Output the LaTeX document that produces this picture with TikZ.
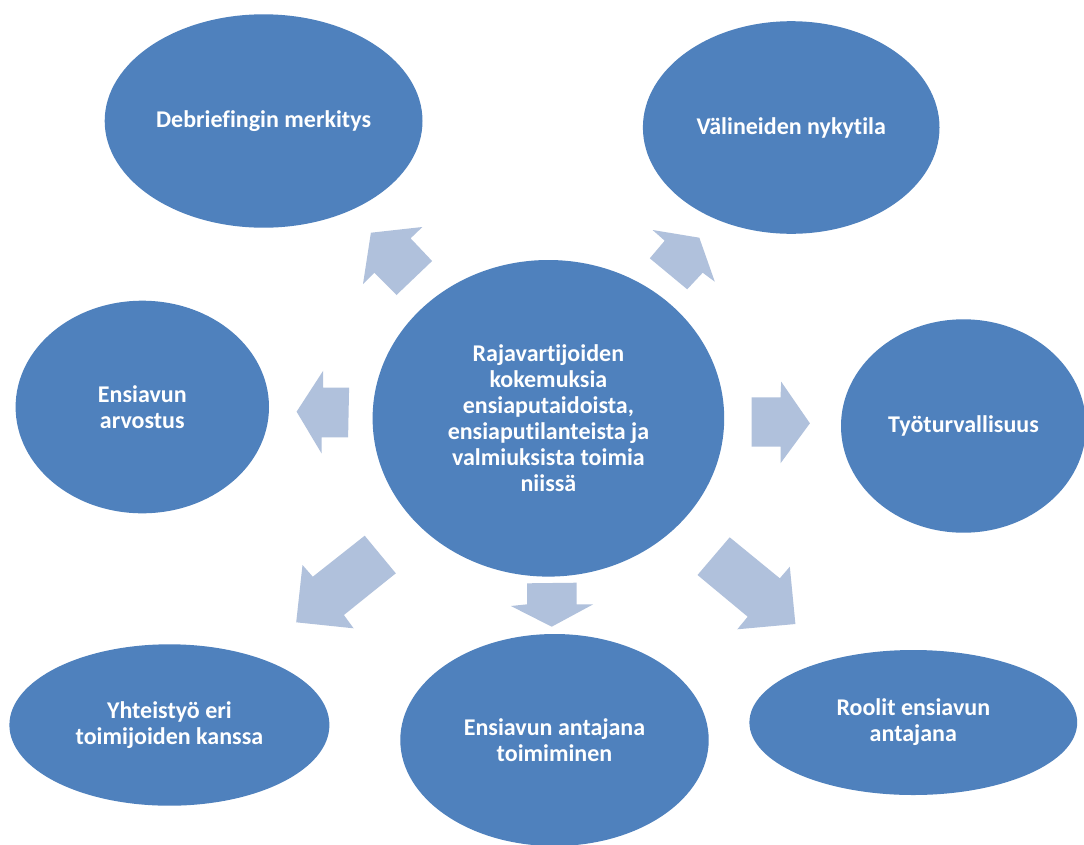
\documentclass[tikz,border=0pt]{standalone}
\usepackage{fontspec}
\setmainfont{Carlito}[RawFeature={-liga;-clig;-calt;-dlig}]
\usetikzlibrary{shapes.geometric}
\definecolor{ellblue}{HTML}{4F81BD}
\definecolor{arrblue}{HTML}{B0C1DC}
\begin{document}
\begin{tikzpicture}[x=1pt,y=-1pt,
  bubble/.style={ellipse, fill=ellblue, draw=none, inner sep=0pt, outer sep=0pt,
    text=white, font=\fontsize{24}{26}\selectfont\bfseries, align=center},
  blockarrow/.style={fill=arrblue, draw=none}]
\useasboundingbox (0,0) rectangle (1084,844);
\fill[white] (0,0) rectangle (1084,844);

% nodes
\node[bubble, minimum width=351.6pt, minimum height=316.6pt] (center) at (548.4,418.3)
  {Rajavartijoiden\\kokemuksia\\ensiaputaidoista,\\ensiaputilanteista ja\\valmiuksista toimia\\niissä};
\node[bubble, minimum width=317.8pt, minimum height=213.4pt] (debrief) at (263.6,121) {Debriefingin merkitys};
\node[bubble, minimum width=296.6pt, minimum height=212.6pt] (valineet) at (791.2,127.5) {Välineiden nykytila};
\node[bubble, minimum width=253.4pt, minimum height=212.6pt] (arvostus) at (142.3,407) {Ensiavun\\arvostus};
\node[bubble, minimum width=245pt, minimum height=213.4pt] (tyoturva) at (963.5,426) {Työturvallisuus};
\node[bubble, minimum width=320pt, minimum height=161.4pt] (yhteistyo) at (169.4,725) {Yhteistyö eri\\toimijoiden kanssa};
\node[bubble, minimum width=308.4pt, minimum height=212pt] (antajana) at (554.5,740) {Ensiavun antajana\\toimiminen};
\node[bubble, minimum width=327.8pt, minimum height=145pt] (roolit) at (913.3,722.5) {Roolit ensiavun\\antajana};

% block arrows (center -> outer ellipses)
% to Debriefingin merkitys
\fill[blockarrow] (370.9,232.7) -- (422.4,227) -- (410.6,238.3) -- (432.1,261)
  -- (396.5,295) -- (374.4,272.7) -- (363,284) -- cycle;
% to Välineiden nykytila
\fill[blockarrow] (699.3,237.7) -- (714.8,281.7) -- (702.7,272.7) -- (687.2,289.3)
  -- (649.8,258.3) -- (664.7,240.7) -- (652.6,230) -- cycle;
% to Ensiavun arvostus
\fill[blockarrow] (296.6,411.7) -- (323.2,370.7) -- (323.2,387.7) -- (349.1,387.7)
  -- (348.1,437.3) -- (321.5,437.3) -- (321.5,453.3) -- cycle;
% to Työturvallisuus
\fill[blockarrow] (809.9,423.3) -- (780.5,463.3) -- (780.5,446.7) -- (751.5,446.7)
  -- (751.5,397.3) -- (780.5,397.3) -- (781.2,381.7) -- cycle;
% to Yhteistyö eri toimijoiden kanssa
\fill[blockarrow] (296.2,622.3) -- (302.5,565) -- (312.8,576.7) -- (364.7,535.7)
  -- (395.8,573.3) -- (343.9,615) -- (353.6,628.3) -- cycle;
% to Ensiavun antajana toimiminen
\fill[blockarrow] (551.7,626.7) -- (510.9,606) -- (527.1,604.3) -- (527.1,583.3)
  -- (576.6,582.7) -- (576.6,604.3) -- (593.2,604.3) -- cycle;
% to Roolit ensiavun antajana
\fill[blockarrow] (795.4,624) -- (737.3,629.3) -- (747.7,616.7) -- (697.5,575)
  -- (729.7,537.3) -- (779.8,578.3) -- (789.8,566.7) -- cycle;
\end{tikzpicture}
\end{document}
